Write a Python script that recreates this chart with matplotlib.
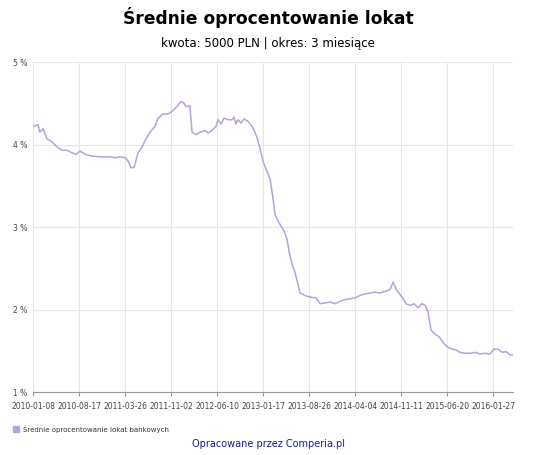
import matplotlib
matplotlib.use("Agg")
import matplotlib.pyplot as plt
import matplotlib.patches as mpatches

days = [0,24,33,48,67,91,115,139,163,186,206,225,249,282,320,368,392,416,440,454,468,483,502,521,540,559,583,598,621,645,664,688,707,722,731,750,760,779,798,822,837,856,875,884,899,913,932,951,961,970,980,994,1009,1028,1052,1071,1085,1099,1114,1133,1147,1157,1176,1200,1214,1224,1238,1252,1267,1276,1300,1324,1353,1372,1396,1420,1444,1467,1491,1515,1539,1563,1587,1611,1635,1659,1683,1706,1721,1735,1754,1769,1783,1802,1821,1840,1859,1874,1888,1902,1922,1941,1960,1979,2003,2022,2041,2065,2089,2113,2137,2161,2184,2203,2223,2242,2261,2280,2294]
rates = [4.22,4.24,4.15,4.19,4.07,4.03,3.97,3.93,3.93,3.90,3.88,3.92,3.88,3.86,3.85,3.85,3.84,3.85,3.84,3.80,3.72,3.72,3.90,3.97,4.07,4.15,4.22,4.32,4.37,4.37,4.40,4.46,4.52,4.50,4.46,4.47,4.15,4.12,4.15,4.17,4.14,4.17,4.22,4.30,4.25,4.32,4.30,4.30,4.33,4.25,4.30,4.26,4.31,4.28,4.20,4.08,3.95,3.80,3.70,3.58,3.35,3.15,3.05,2.95,2.85,2.70,2.55,2.45,2.30,2.20,2.17,2.15,2.14,2.07,2.08,2.09,2.07,2.10,2.12,2.13,2.14,2.17,2.19,2.20,2.21,2.20,2.22,2.24,2.33,2.25,2.18,2.13,2.07,2.05,2.07,2.02,2.07,2.05,1.97,1.75,1.70,1.67,1.60,1.55,1.52,1.51,1.48,1.47,1.47,1.48,1.46,1.47,1.46,1.52,1.52,1.48,1.49,1.45,1.45]
tick_days = [0,220,440,660,880,1100,1320,1540,1760,1980,2200]
tick_labels = ["2010-01-08","2010-08-17","2011-03-26","2011-11-02","2012-06-10","2013-01-17","2013-08-26","2014-04-04","2014-11-11","2015-06-20","2016-01-27"]
y_ticks = [1,2,3,4,5]

col = "#b9a0dc"
fig = plt.figure(figsize=(5.36,4.55), dpi=100)
ax = fig.add_axes([33/536, 1-392/455, 480/536, 330/455])
ax.plot(days, rates, color=col, lw=1.1)
ax.set_xlim(0, 2294)
ax.set_ylim(1, 5)
ax.set_xticks(tick_days)
ax.set_xticklabels(tick_labels, fontsize=5.5, color="#444444")
ax.set_yticks(y_ticks)
ax.set_yticklabels([f"{v} %" for v in y_ticks], fontsize=5.5, color="#444444")
ax.tick_params(length=3, color="#999999", pad=4)
ax.tick_params(axis='y', length=0)
ax.grid(True, color="#e6e6e6", lw=0.8)
for s in ["top","right","left"]:
    ax.spines[s].set_visible(False)
ax.spines["bottom"].set_color("#999999")
fig.text(0.5, 1-18/455, "Średnie oprocentowanie lokat", ha="center", va="center", fontsize=12.3, fontweight="bold")
fig.text(0.5, 1-44/455, "kwota: 5000 PLN | okres: 3 miesiące", ha="center", va="center", fontsize=8.5)
fig.patches.append(mpatches.Rectangle((13/536, 1-432/455), 6/536, 6/455, transform=fig.transFigure, color=col))
fig.text(23/536, 1-429/455, "Średnie oprocentowanie lokat bankowych", fontsize=5, va="center", color="#333333")
fig.text(0.5, 1-444/455, "Opracowane przez Comperia.pl", ha="center", va="center", fontsize=7, color="#1a1aa0")
fig.savefig("out.png", dpi=100, facecolor="white")
